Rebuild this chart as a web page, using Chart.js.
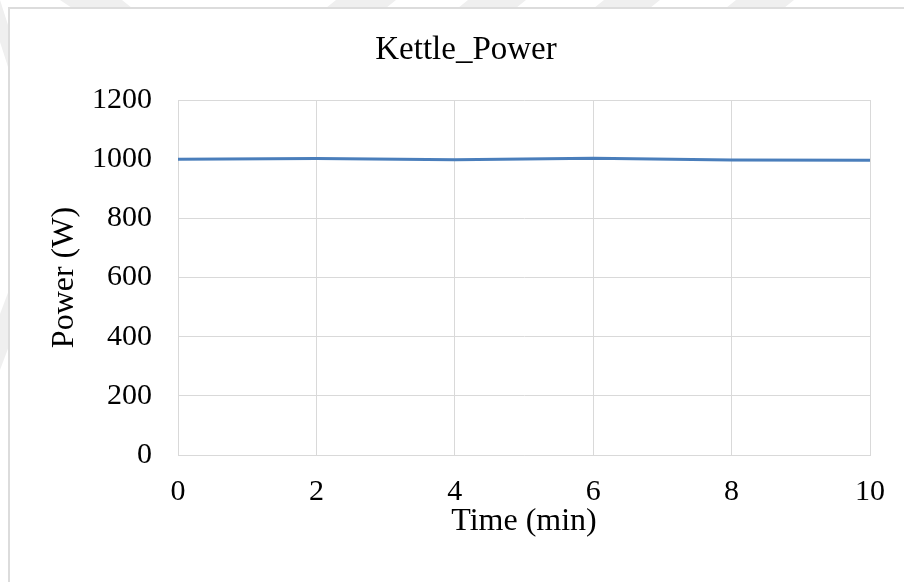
<!DOCTYPE html>
<html>
<head>
<meta charset="utf-8">
<script src="https://cdn.jsdelivr.net/npm/chart.js@4.4.1/dist/chart.umd.min.js"></script>
<style>
  html, body { margin: 0; padding: 0; background: #ffffff; }
  #wrap { position: relative; width: 904px; height: 582px; overflow: hidden; background: #ffffff; }
  .band { position: absolute; background: #efefef; }
  #frame {
    position: absolute; left: 8px; top: 7px; width: 1000px; height: 1000px;
    border-left: 2px solid #dcdcdc; border-top: 2px solid #dcdcdc;
    background: #ffffff;
  }
  canvas { position: absolute; left: 0; top: 0; }
</style>
</head>
<body>
<div id="wrap">
  <!-- faint diagonal backdrop bands behind the chart frame -->
  <div class="band" style="left:60px;top:0;width:72px;height:8px;clip-path:polygon(0 0,62px 0,72px 100%,12px 100%);"></div>
  <div class="band" style="left:326px;top:0;width:70px;height:8px;clip-path:polygon(10px 0,70px 0,60px 100%,0 100%);"></div>
  <div class="band" style="left:458px;top:0;width:68px;height:8px;clip-path:polygon(10px 0,68px 0,58px 100%,0 100%);"></div>
  <div class="band" style="left:594px;top:0;width:66px;height:8px;clip-path:polygon(10px 0,66px 0,56px 100%,0 100%);"></div>
  <div class="band" style="left:726px;top:0;width:68px;height:8px;clip-path:polygon(10px 0,68px 0,58px 100%,0 100%);"></div>
  <div class="band" style="left:0;top:0;width:9px;height:70px;clip-path:polygon(0 0,9px 40%,9px 100%,0 60%);"></div>
  <div class="band" style="left:0;top:290px;width:9px;height:80px;clip-path:polygon(0 30%,9px 0,9px 70%,0 100%);"></div>
  <div id="frame"></div>
  <canvas id="chart" width="904" height="582"></canvas>
</div>
<script>
// Kettle power readings (W) over time (min)
const timeMin = [0, 2, 4, 6, 8, 10];
const powerW = [1000, 1002, 998, 1003, 997, 996];

const xTicks = [0, 2, 4, 6, 8, 10];
const yTicks = [0, 200, 400, 600, 800, 1000, 1200];

const chartTitle = 'Kettle_Power';
const xTitle = 'Time (min)';
const yTitle = 'Power (W)';

const serif = '"Liberation Serif", "Times New Roman", serif';
const gridColor = '#d9d9d9';

new Chart(document.getElementById('chart'), {
  type: 'line',
  data: {
    datasets: [{
      label: chartTitle,
      data: timeMin.map((t, i) => ({ x: t, y: powerW[i] })),
      borderColor: '#4a7ebb',
      borderWidth: 3,
      pointRadius: 0,
      tension: 0,
      fill: false
    }]
  },
  options: {
    responsive: false,
    devicePixelRatio: 1,
    animation: false,
    layout: { padding: { left: 62, right: 34, top: 0, bottom: 0 } },
    plugins: {
      legend: { display: false },
      tooltip: { enabled: false },
      title: {
        display: true,
        text: chartTitle,
        color: '#000000',
        font: { family: serif, size: 33, weight: 'normal' },
        padding: { top: 31, bottom: 29.4 }
      }
    },
    scales: {
      x: {
        type: 'linear',
        min: xTicks[0],
        max: xTicks[xTicks.length - 1],
        afterBuildTicks(scale) { scale.ticks = xTicks.map(v => ({ value: v })); },
        ticks: {
          color: '#000000',
          font: { family: serif, size: 30 },
          padding: 19,
          maxRotation: 0,
          callback: v => String(v)
        },
        grid: { color: gridColor, lineWidth: 1, drawTicks: false },
        border: { color: gridColor, width: 1 },
        title: {
          display: true,
          text: xTitle,
          color: '#000000',
          font: { family: serif, size: 32 },
          padding: { top: 0, bottom: 41 }
        },
        afterFit(scale) { scale.height = 127; }
      },
      y: {
        min: yTicks[0],
        max: yTicks[yTicks.length - 1],
        afterBuildTicks(scale) { scale.ticks = yTicks.map(v => ({ value: v })); },
        ticks: {
          color: '#000000',
          font: { family: serif, size: 30 },
          padding: 26,
          callback: v => String(v)
        },
        grid: { color: gridColor, lineWidth: 1, drawTicks: false },
        border: { color: gridColor, width: 1 },
        title: {
          display: true,
          text: yTitle,
          color: '#000000',
          font: { family: serif, size: 32 },
          padding: { top: -17, bottom: 0 }
        },
        afterFit(scale) { scale.width = 116; }
      }
    }
  }
});
</script>
</body>
</html>
